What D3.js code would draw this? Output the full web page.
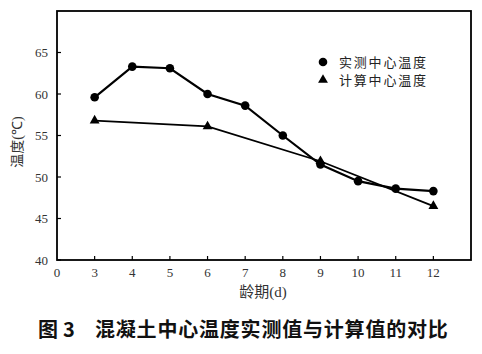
<!DOCTYPE html>
<html>
<head>
<meta charset="utf-8">
<script src="https://cdn.jsdelivr.net/npm/d3@7/dist/d3.min.js"></script>
<style>
  body { margin: 0; background: #fff; }
  .tick-label { font-family: "Liberation Serif", "DejaVu Serif", serif; font-size: 13px; fill: #333; }
  .cjk { font-family: "Noto Sans CJK SC", sans-serif; }
</style>
</head>
<body>
<svg width="482" height="354"></svg>
<script>
// x categories (days) and tick labels; first tick "0" sits on the axis corner
const xTicks = ["0", "3", "4", "5", "6", "7", "8", "9", "10", "11", "12"];
const days = [3, 4, 5, 6, 7, 8, 9, 10, 11, 12];
const measured = [59.6, 63.3, 63.1, 60.0, 58.6, 55.0, 51.5, 49.5, 48.6, 48.3];
const calcDays = [3, 6, 9, 12];
const calculated = [56.8, 56.1, 51.9, 46.5];
const yTicks = [40, 45, 50, 55, 60, 65];

const svg = d3.select("svg");
const plotL = 57, plotR = 471, plotT = 11, plotB = 260;

// index on the axis: "0" -> 0, 3 -> 1, ... 12 -> 10, frame edge at 11
const dayIndex = d => d === 0 ? 0 : d - 2;
const x = d3.scaleLinear().domain([0, 11]).range([plotL, plotR]);
const y = d3.scaleLinear().domain([40, 70]).range([plotB, plotT]);

// frame
svg.append("rect")
    .attr("x", plotL).attr("y", plotT)
    .attr("width", plotR - plotL).attr("height", plotB - plotT)
    .attr("fill", "none").attr("stroke", "#000").attr("stroke-width", 1.8);

// y ticks
const yg = svg.append("g");
yg.selectAll("line").data(yTicks).enter().append("line")
    .attr("x1", plotL).attr("x2", plotL + 4)
    .attr("y1", d => y(d)).attr("y2", d => y(d))
    .attr("stroke", "#000").attr("stroke-width", 1.2);
yg.selectAll("text").data(yTicks).enter().append("text")
    .attr("class", "tick-label")
    .attr("x", plotL - 9).attr("y", d => y(d))
    .attr("dy", "0.35em").attr("text-anchor", "end")
    .text(d => d);

// x ticks
const xg = svg.append("g");
xg.selectAll("line").data(xTicks.slice(1)).enter().append("line")
    .attr("x1", d => x(dayIndex(+d))).attr("x2", d => x(dayIndex(+d)))
    .attr("y1", plotB).attr("y2", plotB - 4)
    .attr("stroke", "#000").attr("stroke-width", 1.2);
xg.selectAll("text").data(xTicks).enter().append("text")
    .attr("class", "tick-label")
    .attr("x", d => x(dayIndex(+d))).attr("y", plotB + 12)
    .attr("dy", "0.35em").attr("text-anchor", "middle")
    .text(d => d);

// axis titles
svg.append("text")
    .attr("transform", "translate(17,142) rotate(-90)")
    .attr("text-anchor", "middle").attr("dy", "0.35em")
    .attr("fill", "#333").style("font-size", "14px")
    .html('<tspan class="cjk">温度</tspan><tspan font-family="Liberation Serif">(℃)</tspan>');

svg.append("text")
    .attr("x", 263).attr("y", 292)
    .attr("text-anchor", "middle").attr("dy", "0.35em")
    .attr("fill", "#333").style("font-size", "15px")
    .html('<tspan class="cjk">龄期</tspan><tspan font-family="Liberation Serif">(d)</tspan>');

// lines
const line = d3.line().x(d => x(dayIndex(d[0]))).y(d => y(d[1]));
const mData = days.map((d, i) => [d, measured[i]]);
const cData = calcDays.map((d, i) => [d, calculated[i]]);

svg.append("path").datum(mData).attr("d", line)
    .attr("fill", "none").attr("stroke", "#000").attr("stroke-width", 2.2);
svg.append("path").datum(cData).attr("d", line)
    .attr("fill", "none").attr("stroke", "#000").attr("stroke-width", 1.8);

svg.append("g").selectAll("circle").data(mData).enter().append("circle")
    .attr("cx", d => x(dayIndex(d[0]))).attr("cy", d => y(d[1]))
    .attr("r", 4.3).attr("fill", "#000");

const tri = d3.symbol().type(d3.symbolTriangle).size(42);
svg.append("g").selectAll("path").data(cData).enter().append("path")
    .attr("d", tri)
    .attr("transform", d => `translate(${x(dayIndex(d[0]))},${y(d[1])})`)
    .attr("fill", "#000");

// legend
const legend = svg.append("g");
legend.append("circle").attr("cx", 323).attr("cy", 62).attr("r", 4.3).attr("fill", "#000");
legend.append("path").attr("d", tri).attr("transform", "translate(323,80)").attr("fill", "#000");
legend.append("text").attr("class", "cjk").attr("x", 339).attr("y", 62).attr("dy", "0.35em")
    .style("font-size", "13px").attr("fill", "#222").attr("letter-spacing", "1.8px").text("实测中心温度");
legend.append("text").attr("class", "cjk").attr("x", 339).attr("y", 80).attr("dy", "0.35em")
    .style("font-size", "13px").attr("fill", "#222").attr("letter-spacing", "1.8px").text("计算中心温度");

// caption
const cap = svg.append("text").attr("class", "cjk")
    .attr("y", 330).attr("dy", "0.35em")
    .style("font-size", "20px").style("font-weight", "bold").attr("fill", "#111");
cap.append("tspan").attr("x", 38).text("图");
cap.append("tspan").attr("x", 63).text("3");
cap.append("tspan").attr("x", 95).attr("letter-spacing", "0.8px").text("混凝土中心温度实测值与计算值的对比");
</script>
</body>
</html>
